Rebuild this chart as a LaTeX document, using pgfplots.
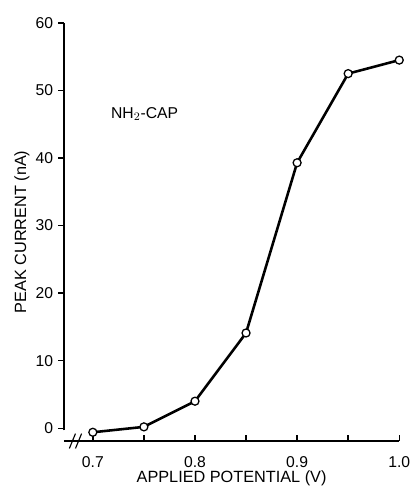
\documentclass[border=0pt]{standalone}
\usepackage{fontspec}
\setmainfont{Liberation Sans}
\usepackage{pgfplots}
\pgfplotsset{compat=1.18}
\begin{document}
\begin{tikzpicture}
\begin{axis}[
    name=ax,
    width=235pt, height=293pt,
    scale only axis,
    xmin=0.6717, xmax=1.0,
    ymin=-1.9, ymax=60,
    axis x line*=bottom,
    axis y line*=left,
    axis line style={-, line width=1.1pt},
    y axis line style={shorten <=7.5pt},
    xtick={0.7,0.8,0.9,1.0},
    minor xtick={0.75,0.85,0.95},
    ytick={0,10,...,60},
    xtick align=inside,
    ytick align=outside,
    major tick length=4pt,
    minor tick length=4pt,
    every tick/.append style={line width=1pt, black},
    /pgf/number format/assume math mode=true,
    tick label style={font=\fontsize{11}{13}\selectfont},
    xticklabel style={yshift=-7pt, /pgf/number format/fixed, /pgf/number format/fixed zerofill, /pgf/number format/precision=1},
    yticklabel style={xshift=0pt},
    label style={font=\fontsize{11.4}{13}\selectfont},
    xlabel={APPLIED POTENTIAL (V)},
    ylabel={PEAK CURRENT (nA)},
    xlabel style={at={(axis description cs:0.5,-0.088)}, anchor=center},
    ylabel style={at={(axis description cs:-0.125,0.5)}, anchor=center},
    clip=false,
]
\addplot[black, line width=1.8pt, mark=*, mark size=2.8pt,
         mark options={fill=white, draw=black, line width=0.9pt}]
coordinates {
    (0.70,-0.6)
    (0.75,0.2)
    (0.80,4.0)
    (0.85,14.1)
    (0.90,39.3)
    (0.95,52.5)
    (1.00,54.5)
};
\node[anchor=west, font=\fontsize{11}{13}\selectfont] at (axis cs:0.713,46.5) {NH$_2$-CAP};
\draw[line width=0.8pt] (axis cs:0.677,-3.0) -- (axis cs:0.683,-0.8);
\draw[line width=0.8pt] (axis cs:0.683,-3.0) -- (axis cs:0.689,-0.8);
\end{axis}
\pgfresetboundingbox
\path[use as bounding box] ([xshift=-44.8pt,yshift=-32.2pt]ax.south west) rectangle ([xshift=8.4pt,yshift=16.1pt]ax.north east);
\end{tikzpicture}
\end{document}
